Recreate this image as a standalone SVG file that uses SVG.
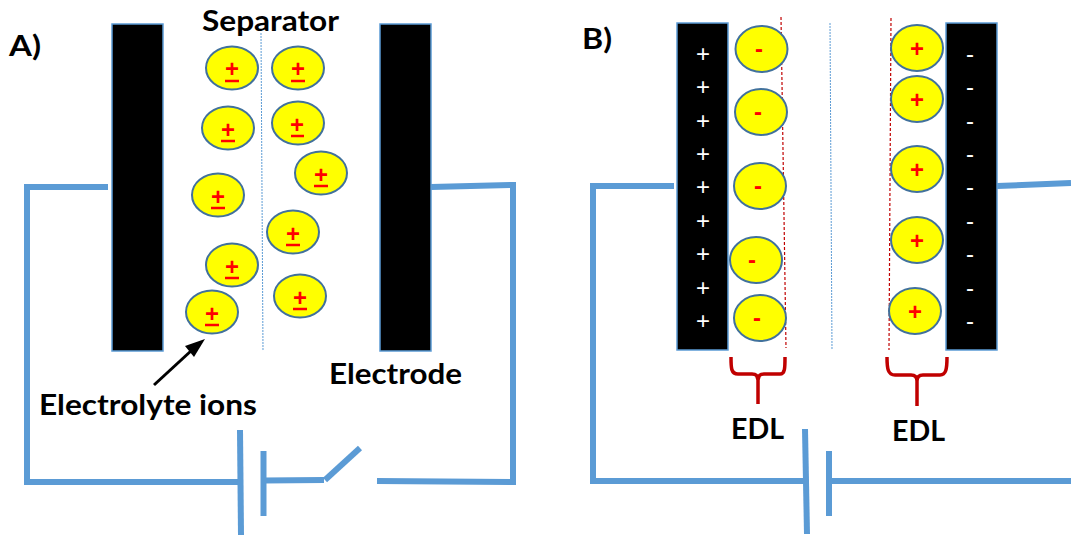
<svg xmlns="http://www.w3.org/2000/svg" width="1071" height="535" viewBox="0 0 1071 535">
<style>
text{font-family:Lato,"Open Sans",sans-serif}
.lbl{font-size:29px;font-weight:700;fill:#000}
.ion{fill:#ff0;stroke:#41719c;stroke-width:2}
.sym{font-family:"Liberation Sans",sans-serif;font-size:24px;font-weight:700;fill:#f00;text-anchor:middle}
.el{fill:#000;stroke:#5b9bd5;stroke-width:1.500}
.w{fill:none;stroke:#5b9bd5;stroke-width:6}
.pm{font-family:"Liberation Sans",sans-serif;font-size:24px;fill:#fff;text-anchor:middle}
.brace{fill:none;stroke:#c00000;stroke-width:3.500}
.red{stroke:#c00000;stroke-width:1.200;stroke-dasharray:3 2;fill:none}
.blue{stroke:#5b9bd5;stroke-width:1;stroke-dasharray:2 1;fill:none}
.bar{stroke:#f00;stroke-width:2.500}
</style>
<g id="connectors">
<path class="w" d="M108 187H27V482H240"/>
<path class="w" d="M240 430L241 535"/>
<path class="w" d="M263.500 451V516"/>
<path class="w" d="M264 480.500L324 480"/>
<path class="w" d="M325 480L360 448"/>
<path class="w" d="M377 481L513 482V185L431 187"/>
<path class="w" d="M674 186H593V481H805"/>
<path class="w" d="M805 429L807 534"/>
<path class="w" d="M829 451V516"/>
<path class="w" d="M830 481H1071"/>
<path class="w" d="M997 186L1071 183"/>
<path d="M154 385L192 350" fill="none" stroke="#000" stroke-width="3"/>
<path d="M205 339L194 357L185 346Z" fill="#000"/>
<path class="blue" d="M261 33L263 351"/>
<path class="blue" d="M830 23L832 350"/>
<path class="red" d="M781 17L786 348"/>
<path class="red" d="M891 18L889 350"/>
<path class="brace" d="M731 357C731 368 731 374 738 374H752C757 374 757 376 758 380C759 376 759 374 764 374H780C785 374 785 368 785 357M758 378V404"/>
<path class="brace" d="M887 357C887 369 888 375 895 375H911C915 375 917 377 917 381C917 377 919 375 923 375H940C946 375 947 369 947 357M917 378V406"/>
</g>
<g id="electrode-a1"><rect class="el" x="112" y="24" width="51" height="327"/></g>
<g id="electrode-a2"><rect class="el" x="380" y="24" width="51" height="327"/></g>
<g id="electrode-b1"><rect class="el" x="677" y="23" width="51" height="327"/></g>
<g id="electrode-b2"><rect class="el" x="946" y="23" width="51" height="327"/></g>
<g id="ions-a">
<g id="a1"><ellipse class="ion" cx="232" cy="68" rx="26" ry="21.500"/><text class="sym" x="232" y="77">+</text><path class="bar" d="M225 81H239"/></g>
<g id="a2"><ellipse class="ion" cx="298" cy="68" rx="26" ry="21.500"/><text class="sym" x="298" y="77">+</text><path class="bar" d="M291 81H305"/></g>
<g id="a3"><ellipse class="ion" cx="228" cy="128" rx="26" ry="21.500"/><text class="sym" x="228" y="138">+</text><path class="bar" d="M221 141H235"/></g>
<g id="a4"><ellipse class="ion" cx="298" cy="123" rx="26" ry="21.500"/><text class="sym" x="297" y="133">+</text><path class="bar" d="M291 136H304"/></g>
<g id="a5"><ellipse class="ion" cx="321" cy="173" rx="26" ry="21.500"/><text class="sym" x="321" y="183">+</text><path class="bar" d="M314 186H328"/></g>
<g id="a6"><ellipse class="ion" cx="218" cy="195" rx="26" ry="21.500"/><text class="sym" x="218" y="205">+</text><path class="bar" d="M211 208H225"/></g>
<g id="a7"><ellipse class="ion" cx="293" cy="232" rx="26" ry="21.500"/><text class="sym" x="293" y="242">+</text><path class="bar" d="M286 245H300"/></g>
<g id="a8"><ellipse class="ion" cx="232" cy="265" rx="26" ry="21.500"/><text class="sym" x="232" y="275">+</text><path class="bar" d="M225 278H239"/></g>
<g id="a9"><ellipse class="ion" cx="300" cy="296" rx="26" ry="21.500"/><text class="sym" x="300" y="306">+</text><path class="bar" d="M293 309H307"/></g>
<g id="a10"><ellipse class="ion" cx="212" cy="312" rx="26" ry="21.500"/><text class="sym" x="212" y="322">+</text><path class="bar" d="M205 325H219"/></g>
</g>
<g id="ions-b">
<g id="b1"><ellipse class="ion" cx="761.500" cy="49" rx="26" ry="23"/><text class="sym" x="759" y="57">-</text></g>
<g id="b2"><ellipse class="ion" cx="761" cy="112" rx="26" ry="23"/><text class="sym" x="758" y="120">-</text></g>
<g id="b3"><ellipse class="ion" cx="760" cy="186" rx="26" ry="23"/><text class="sym" x="758" y="194">-</text></g>
<g id="b4"><ellipse class="ion" cx="756" cy="260" rx="26" ry="23"/><text class="sym" x="752" y="268">-</text></g>
<g id="b5"><ellipse class="ion" cx="760" cy="318" rx="26" ry="23"/><text class="sym" x="757" y="326">-</text></g>
<g id="b6"><ellipse class="ion" cx="917" cy="48" rx="26" ry="23"/><text class="sym" x="917" y="57">+</text></g>
<g id="b7"><ellipse class="ion" cx="917" cy="99" rx="26" ry="23"/><text class="sym" x="917" y="108">+</text></g>
<g id="b8"><ellipse class="ion" cx="917" cy="169" rx="26" ry="23"/><text class="sym" x="917" y="178">+</text></g>
<g id="b9"><ellipse class="ion" cx="917" cy="240" rx="26" ry="23"/><text class="sym" x="917" y="249">+</text></g>
<g id="b10"><ellipse class="ion" cx="915" cy="311" rx="26" ry="23"/><text class="sym" x="915" y="320">+</text></g>
</g>
<g id="charges">
<text class="pm" x="703" y="62">+</text><text class="pm" x="703" y="95">+</text><text class="pm" x="703" y="129">+</text><text class="pm" x="703" y="162">+</text><text class="pm" x="703" y="195">+</text><text class="pm" x="703" y="229">+</text><text class="pm" x="703" y="262">+</text><text class="pm" x="703" y="296">+</text><text class="pm" x="703" y="329">+</text>
<text class="pm" x="970" y="62">-</text><text class="pm" x="970" y="95">-</text><text class="pm" x="970" y="129">-</text><text class="pm" x="970" y="162">-</text><text class="pm" x="970" y="195">-</text><text class="pm" x="970" y="229">-</text><text class="pm" x="970" y="262">-</text><text class="pm" x="970" y="296">-</text><text class="pm" x="970" y="329">-</text>
</g>
<g id="labels">
<text class="lbl" x="9" y="56" textLength="32" lengthAdjust="spacingAndGlyphs">A)</text>
<text class="lbl" x="582" y="49" textLength="30" lengthAdjust="spacingAndGlyphs">B)</text>
<text class="lbl" x="202" y="31" textLength="137" lengthAdjust="spacingAndGlyphs">Separator</text>
<text class="lbl" x="329" y="384" textLength="133" lengthAdjust="spacingAndGlyphs">Electrode</text>
<text class="lbl" x="39" y="415" textLength="218" lengthAdjust="spacingAndGlyphs">Electrolyte ions</text>
<text class="lbl" x="731" y="439" textLength="53" lengthAdjust="spacingAndGlyphs">EDL</text>
<text class="lbl" x="892" y="441" textLength="53" lengthAdjust="spacingAndGlyphs">EDL</text>
</g>
</svg>
